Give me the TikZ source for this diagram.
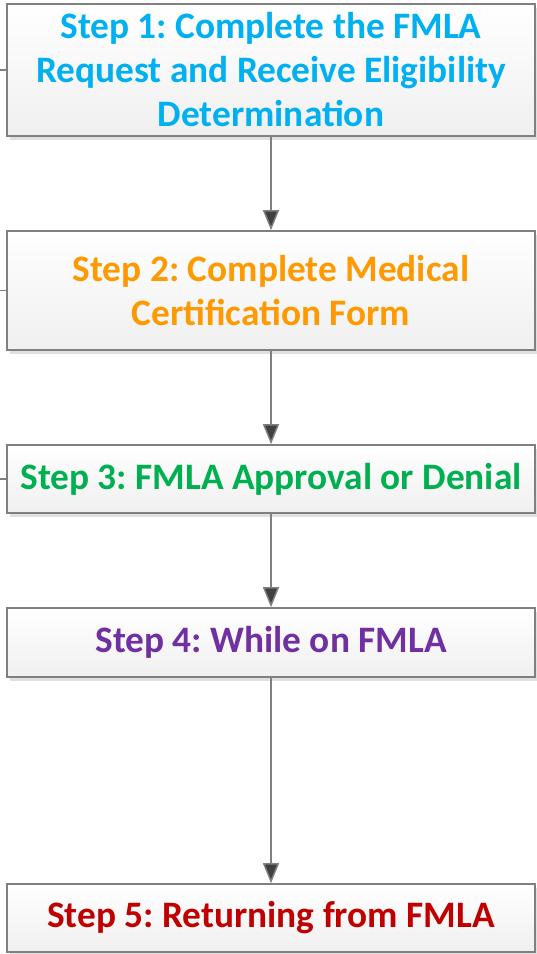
\documentclass[tikz,border=0pt]{standalone}
\usepackage{fontspec}
\setmainfont{Carlito}
\usetikzlibrary{shadows,arrows.meta}
\definecolor{c1}{HTML}{00B0F0}
\definecolor{c2}{HTML}{FF9900}
\definecolor{c3}{HTML}{00B050}
\definecolor{c4}{HTML}{7030A0}
\definecolor{c5}{HTML}{C00000}
\definecolor{bord}{HTML}{808080}
\definecolor{arr}{HTML}{404040}
\frenchspacing
\tikzset{
  stepbox/.style={draw=bord, line width=1.2pt, top color=white, bottom color=black!6,
    drop shadow={shadow xshift=2.2pt, shadow yshift=-3pt, fill=black!12, opacity=1},
    minimum width=528*0.75pt, align=center, inner sep=0pt,
    font=\fontsize{28}{33}\selectfont\bfseries},
  link/.style={draw=bord, line width=1.1pt, -{Triangle[length=15pt,width=12pt,fill=arr]}},
  stub/.style={draw=bord, line width=1.1pt}
}
\begin{document}
\begin{tikzpicture}[x=0.75pt,y=-0.75pt]
\useasboundingbox (0,0) rectangle (536,954);
\node[stepbox, minimum height=132*0.75pt, text=c1] (s1) at (271,70) {Step 1: Complete the FMLA\\Request and Receive Eligibility\\Determination};
\node[stepbox, minimum height=119*0.75pt, text=c2] (s2) at (271,290.5) {Step 2: Complete Medical\\Certification Form};
\node[stepbox, minimum height=68*0.75pt, text=c3] (s3) at (271,479) {Step 3: FMLA Approval or Denial};
\node[stepbox, minimum height=69*0.75pt, text=c4] (s4) at (271,642.5) {Step 4: While on FMLA};
\node[stepbox, minimum height=68*0.75pt, text=c5] (s5) at (271,918) {Step 5: Returning from FMLA};
\coordinate (l1) at (0,70);
\coordinate (l2) at (0,290.5);
\coordinate (l3) at (0,479);
\draw[stub] (l1) -- (s1.west);
\draw[stub] (l2) -- (s2.west);
\draw[stub] (l3) -- (s3.west);
\draw[link] (s1.south) -- (s2.north);
\draw[link] (s2.south) -- (s3.north);
\draw[link] (s3.south) -- (s4.north);
\draw[link] (s4.south) -- (s5.north);
\end{tikzpicture}
\end{document}
